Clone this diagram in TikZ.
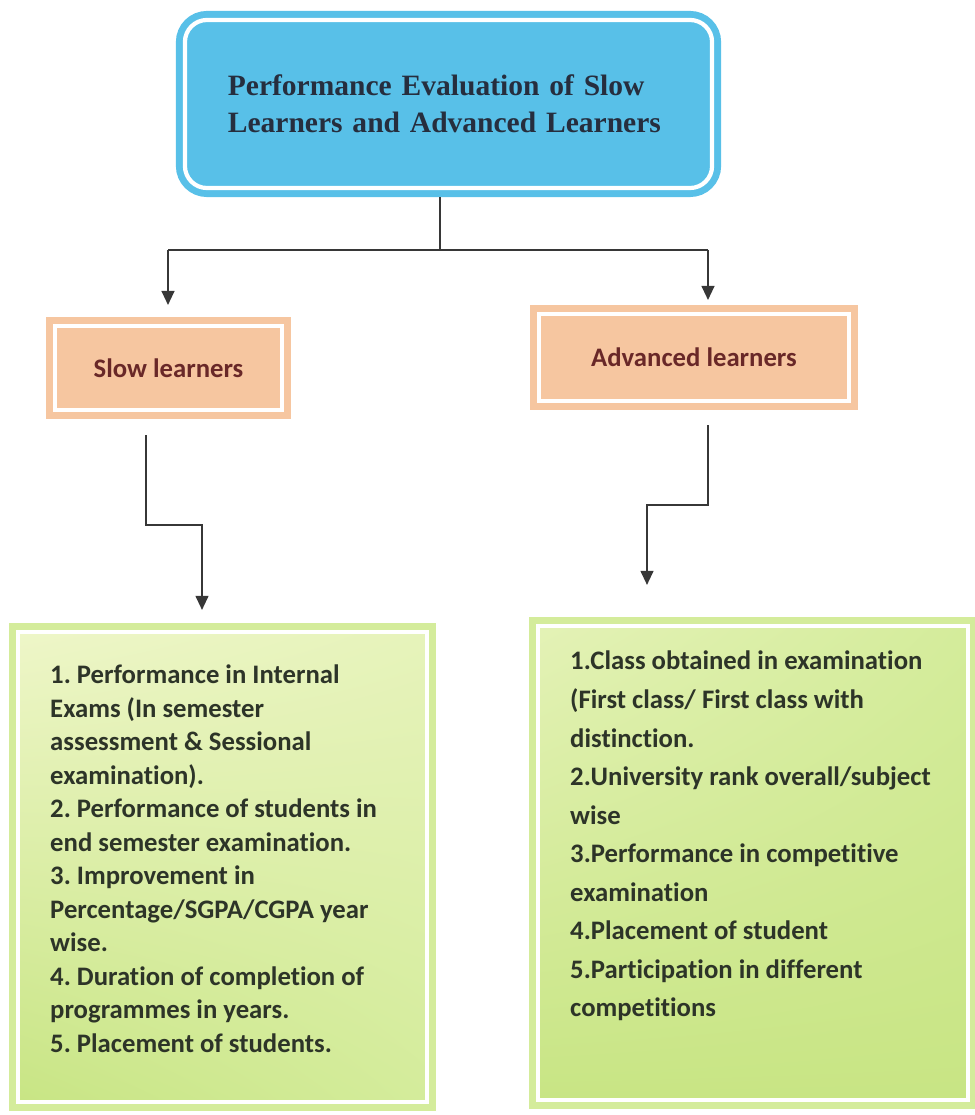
\documentclass[tikz,border=0pt]{standalone}
\usepackage{fontspec}
\setmainfont{Carlito}[Ligatures=NoCommon]
\newfontfamily\titlefont{Liberation Serif}
\usetikzlibrary{positioning,arrows.meta,shadings}
\frenchspacing
\definecolor{skyblue}{RGB}{88,192,232}
\definecolor{peach}{RGB}{246,198,160}
\definecolor{inkblue}{RGB}{38,46,62}
\definecolor{inkred}{RGB}{105,40,40}
\definecolor{inkgreen}{RGB}{45,52,40}
\definecolor{wire}{RGB}{55,55,55}
\definecolor{leafmid}{RGB}{212,236,155}
\definecolor{leafpale}{RGB}{238,246,200}
\definecolor{leafdeep}{RGB}{200,229,132}

\begin{document}
\begin{tikzpicture}[x=0.025cm, y=-0.025cm, >={Triangle[width=0.32cm,length=0.35cm]},
	framed/.style={draw=white, line width=3pt, outer sep=0.225cm,
		preaction={draw=#1, line width=0.45cm}},
	headbox/.style={framed=peach, fill=peach, text=inkred,
		font=\bfseries\fontsize{19}{23}\selectfont},
	listbox/.style={framed=leafmid, shade},
	listtext/.style={inner sep=0pt, align=left, text=inkgreen},
	wire/.style={draw=wire, line width=1.2pt}]
	\useasboundingbox (0,0) rectangle (974,1115);

	\node[framed=skyblue, fill=skyblue, rounded corners=0.55cm, minimum width=13.175cm, minimum height=4.2cm,
		text width=11.03cm, align=left, text=inkblue, font=\titlefont\bfseries\fontsize{21}{26.3}\selectfont]
		(eval) at (448.5,104) {Performance Evaluation of Slow\\Learners and Advanced Learners};

	\node[headbox, minimum width=5.675cm, minimum height=2.1cm] (slow) at (168.5,368) {Slow learners};
	\node[headbox, minimum width=7.75cm, minimum height=2.175cm] (adv) at (694,357.5) {Advanced learners};

	\node[listbox, upper left=leafpale, upper right=leafpale!70!leafmid, lower left=leafdeep, lower right=leafmid,
		minimum width=10.225cm, minimum height=11.75cm] (slowlist) at (222.5,867) {};
	\node[listbox, upper left=leafpale!60!leafmid, upper right=leafmid, lower left=leafdeep, lower right=leafdeep,
		minimum width=10.75cm, minimum height=11.85cm] (advlist) at (753,863) {};

	\node[listtext, font=\bfseries\fontsize{19}{23.8}\selectfont, below right=1.05cm and 1.025cm of slowlist.north west]
		(slowitems) {1. Performance in Internal\\Exams (In semester\\assessment \& Sessional\\examination).\\
		2. Performance of students in\\end semester examination.\\3. Improvement in\\Percentage/SGPA/CGPA year\\
		wise.\\4. Duration of completion of\\programmes in years.\\5. Placement of students.};
	\node[listtext, font=\bfseries\fontsize{19}{27.4}\selectfont, below right=0.85cm and 1.025cm of advlist.north west]
		(advitems) {1.Class obtained in examination\\(First class/ First class with\\distinction.\\
		2.University rank overall/subject\\wise\\3.Performance in competitive\\examination\\
		4.Placement of student\\5.Participation in different\\competitions};

	\coordinate (fork) at (440,250);
	\coordinate (fork-l) at (168,250);
	\coordinate (fork-r) at (708,250);
	\coordinate (slow-bend1) at (146,525);
	\coordinate (slow-bend2) at (202,525);
	\coordinate (adv-bend1) at (708,505);
	\coordinate (adv-bend2) at (647,505);

	\draw[wire] (eval.south -| fork) -- (fork);
	\draw[wire] (fork-l) -- (fork-r);
	\draw[wire, ->, shorten >=0.3cm] (fork-l) -- (fork-l |- slow.north);
	\draw[wire, ->, shorten >=0.125cm] (fork-r) -- (fork-r |- adv.north);
	\draw[wire, ->, shorten <=0.4cm, shorten >=0.325cm] (slow.south -| slow-bend1) -- (slow-bend1) -- (slow-bend2) -- (slow-bend2 |- slowlist.north);
	\draw[wire, ->, shorten <=0.375cm, shorten >=0.8cm] (adv.south -| adv-bend1) -- (adv-bend1) -- (adv-bend2) -- (adv-bend2 |- advlist.north);
\end{tikzpicture}
\end{document}
